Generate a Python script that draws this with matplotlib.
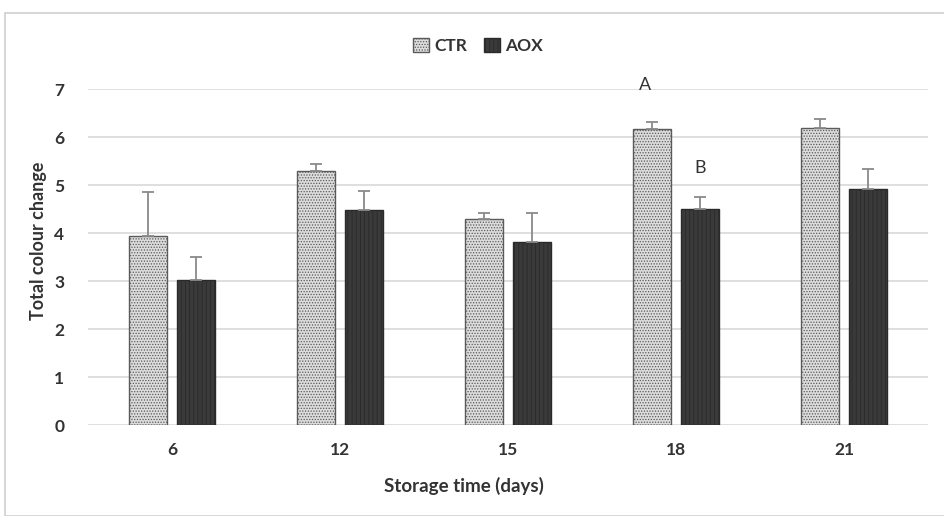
import matplotlib
matplotlib.use("Agg")
import matplotlib.pyplot as plt
from matplotlib.patches import Rectangle
import numpy as np

plt.rcParams['hatch.linewidth'] = 0.6

categories = ["6", "12", "15", "18", "21"]
ctr = [3.94, 5.30, 4.30, 6.17, 6.19]
ctr_err = [0.91, 0.13, 0.12, 0.15, 0.18]
aox = [3.02, 4.48, 3.82, 4.50, 4.92]
aox_err = [0.48, 0.40, 0.60, 0.25, 0.41]
annotations = [("A", 3, -0.185, 7.08), ("B", 3, 0.143, 5.35)]

fig = plt.figure(figsize=(9.44, 5.16), dpi=100)
fig.patches.append(Rectangle((5/944, 0), 1, 1 - 13/516, transform=fig.transFigure,
                             fill=False, edgecolor="#d0d0d0", linewidth=1.2))
ax = fig.add_axes([88/944, 1 - 425/516, 840/944, 336/516])

x = np.arange(len(categories))
w = 0.226
off = 0.143
font = "Lato"

b1 = ax.bar(x - off, ctr, w, color="#dcdcdc", edgecolor="#5a5a5a", hatch="......",
            linewidth=1.0, label="CTR", zorder=3)
b2 = ax.bar(x + off, aox, w, color="#3a3a3a", edgecolor="#2a2a2a", hatch="||||",
            linewidth=1.0, label="AOX", zorder=3)
ax.errorbar(x - off, ctr, yerr=[np.zeros(len(ctr)), ctr_err], fmt="none",
            ecolor="#8a8a8a", elinewidth=1.3, capsize=4, capthick=1.3, zorder=4)
ax.errorbar(x + off, aox, yerr=[np.zeros(len(aox)), aox_err], fmt="none",
            ecolor="#8a8a8a", elinewidth=1.3, capsize=4, capthick=1.3, zorder=4)

for t, i, o, yv in annotations:
    ax.text(i + o, yv, t, ha="center", va="center", fontsize=13, family=font,
            color="#333333")

ax.set_xlim(-0.5, len(categories) - 0.5)
ax.set_ylim(0, 7)
ax.set_yticks(range(0, 8))
ax.set_xticks(x)
ax.set_xticklabels(categories)
for lab in ax.get_xticklabels() + ax.get_yticklabels():
    lab.set_fontweight("bold")
    lab.set_fontsize(12.5)
    lab.set_family(font)
    lab.set_color("#333333")
ax.tick_params(length=0)
ax.tick_params(axis="x", pad=12)
ax.tick_params(axis="y", pad=17)
ax.grid(axis="y", color="#d9d9d9", linewidth=1.2, zorder=0)
ax.set_axisbelow(True)
for s in ax.spines.values():
    s.set_visible(False)

ax.set_xlabel("Storage time (days)", fontsize=13.5, fontweight="bold", family=font,
              color="#333333")
ax.xaxis.set_label_coords(0.448, -0.155)
ax.set_ylabel("Total colour change", fontsize=13, fontweight="bold", family=font,
              color="#333333")
ax.yaxis.set_label_coords(-0.049, 0.548)

fig.legend(handles=[b1, b2], labels=["CTR", "AOX"], loc="center",
           bbox_to_anchor=(478/944, 1 - 46/516), ncol=2, frameon=False,
           prop={"family": font, "size": 12.5, "weight": "bold"}, handlelength=0.9,
           handleheight=0.9, handletextpad=0.3, columnspacing=1.0, labelcolor="#333333")

fig.savefig("out.png", dpi=100)
